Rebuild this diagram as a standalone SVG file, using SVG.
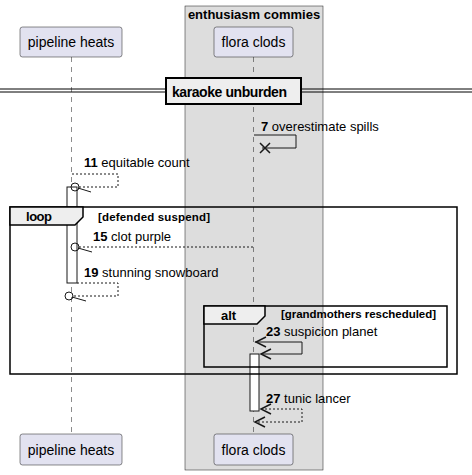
<svg xmlns="http://www.w3.org/2000/svg" width="472" height="475" viewBox="0 0 472 475">
<style>
text{font-family:"Liberation Sans",Arial,sans-serif;fill:#000}
.p rect{fill:#E2E2F0;stroke:#181818;stroke-width:0.5}
.p text{font-size:14px;text-anchor:middle}
.life{stroke:#181818;stroke-width:0.5;stroke-dasharray:5,5;fill:none}
.msg{font-size:13px}
.msg tspan{font-weight:bold}
.solid{stroke:#181818;stroke-width:1;fill:none}
.dash{stroke:#181818;stroke-width:1;fill:none;stroke-dasharray:2,2}
.head{stroke:#181818;stroke-width:1.5;fill:none}
.act{fill:#FFFFFF;stroke:#181818;stroke-width:1}
.frame{fill:none;stroke:#000;stroke-width:1.5}
.tab{fill:#EEEEEE;stroke:#000;stroke-width:1.5}
.flabel{font-size:13px;font-weight:bold}
.guard{font-size:11.5px;font-weight:bold}
</style>
<g id="box-enthusiasm">
<rect x="185" y="6" width="138" height="464" fill="#DDDDDD" stroke="#181818" stroke-width="0.5"/>
<text x="254" y="19" font-size="13" font-weight="bold" text-anchor="middle">enthusiasm commies</text>
</g>
<g id="lifelines">
<line class="life" x1="71.5" y1="57" x2="71.5" y2="434"/>
<line class="life" x1="253.5" y1="57" x2="253.5" y2="434"/>
</g>
<g id="pipeline-heats" class="p">
<rect x="20" y="27" width="102" height="30" rx="2.5"/>
<text x="71" y="47">pipeline heats</text>
<rect x="20" y="434" width="102" height="31" rx="2.5"/>
<text x="71" y="455">pipeline heats</text>
</g>
<g id="flora-clods" class="p">
<rect x="214" y="27" width="79" height="30" rx="2.5"/>
<text x="253.5" y="47">flora clods</text>
<rect x="214" y="434" width="79" height="31" rx="2.5"/>
<text x="253.5" y="455">flora clods</text>
</g>
<g id="divider">
<line x1="0" y1="89" x2="472" y2="89" stroke="#000" stroke-width="1"/>
<line x1="0" y1="92" x2="472" y2="92" stroke="#000" stroke-width="1"/>
<rect x="166" y="78" width="135" height="26" fill="#EEEEEE" stroke="#000" stroke-width="2"/>
<text x="172" y="96.5" font-size="14" font-weight="bold" textLength="115" lengthAdjust="spacing">karaoke unburden</text>
</g>
<g id="activations">
<rect class="act" x="67" y="187" width="10" height="96"/>
<rect class="act" x="250" y="354" width="9" height="57"/>
</g>
<g id="loop-frame">
<rect class="frame" x="10" y="207" width="447" height="167"/>
<path class="tab" d="M10,207 H83 V217 L75,225 H10 Z"/>
<text class="flabel" x="26" y="221" textLength="26" lengthAdjust="spacing">loop</text>
<text class="guard" x="98" y="221" textLength="112" lengthAdjust="spacing">[defended suspend]</text>
</g>
<g id="alt-frame">
<rect class="frame" x="204" y="306" width="243" height="61"/>
<path class="tab" d="M204,306 H265 V316 L257,324 H204 Z"/>
<text class="flabel" x="221" y="320">alt</text>
<text class="guard" x="281" y="318" textLength="155" lengthAdjust="spacing">[grandmothers rescheduled]</text>
</g>
<g id="connectors">
<text class="msg" x="261" y="131"><tspan>7</tspan> overestimate spills</text>
<path class="solid" d="M254,135 H296 V148 H262"/>
<path class="head" d="M260,143 L270,153 M260,153 L270,143"/>
<text class="msg" x="84" y="167"><tspan>11</tspan> equitable count</text>
<path class="dash" d="M72,174 H118 V187 H79"/>
<circle cx="75" cy="187" r="4" fill="none" stroke="#181818" stroke-width="1"/>
<line x1="78" y1="188" x2="91" y2="192" stroke="#181818" stroke-width="1"/>
<text class="msg" x="93" y="241"><tspan>15</tspan> clot purple</text>
<path class="dash" d="M253,247 H79"/>
<circle cx="75" cy="247" r="4" fill="none" stroke="#181818" stroke-width="1"/>
<line x1="78" y1="248" x2="92" y2="252" stroke="#181818" stroke-width="1"/>
<text class="msg" x="84" y="277"><tspan>19</tspan> stunning snowboard</text>
<path class="dash" d="M77,283 H118 V296 H73"/>
<circle cx="69" cy="296" r="4" fill="none" stroke="#181818" stroke-width="1"/>
<line x1="72" y1="297" x2="86" y2="301" stroke="#181818" stroke-width="1"/>
<text class="msg" x="266" y="336"><tspan>23</tspan> suspicion planet</text>
<path class="solid" d="M255,342 H302 V354 H261"/>
<path class="head" d="M266,337 L256,342 L266,347"/>
<path class="head" d="M271,349 L261,354 L271,359"/>
<text class="msg" x="266" y="403"><tspan>27</tspan> tunic lancer</text>
<path class="dash" d="M261,409 H302 V422 H255"/>
<path class="head" d="M271,404 L261,409 L271,414"/>
<path class="head" d="M265,417 L255,422 L265,427"/>
</g>
</svg>
